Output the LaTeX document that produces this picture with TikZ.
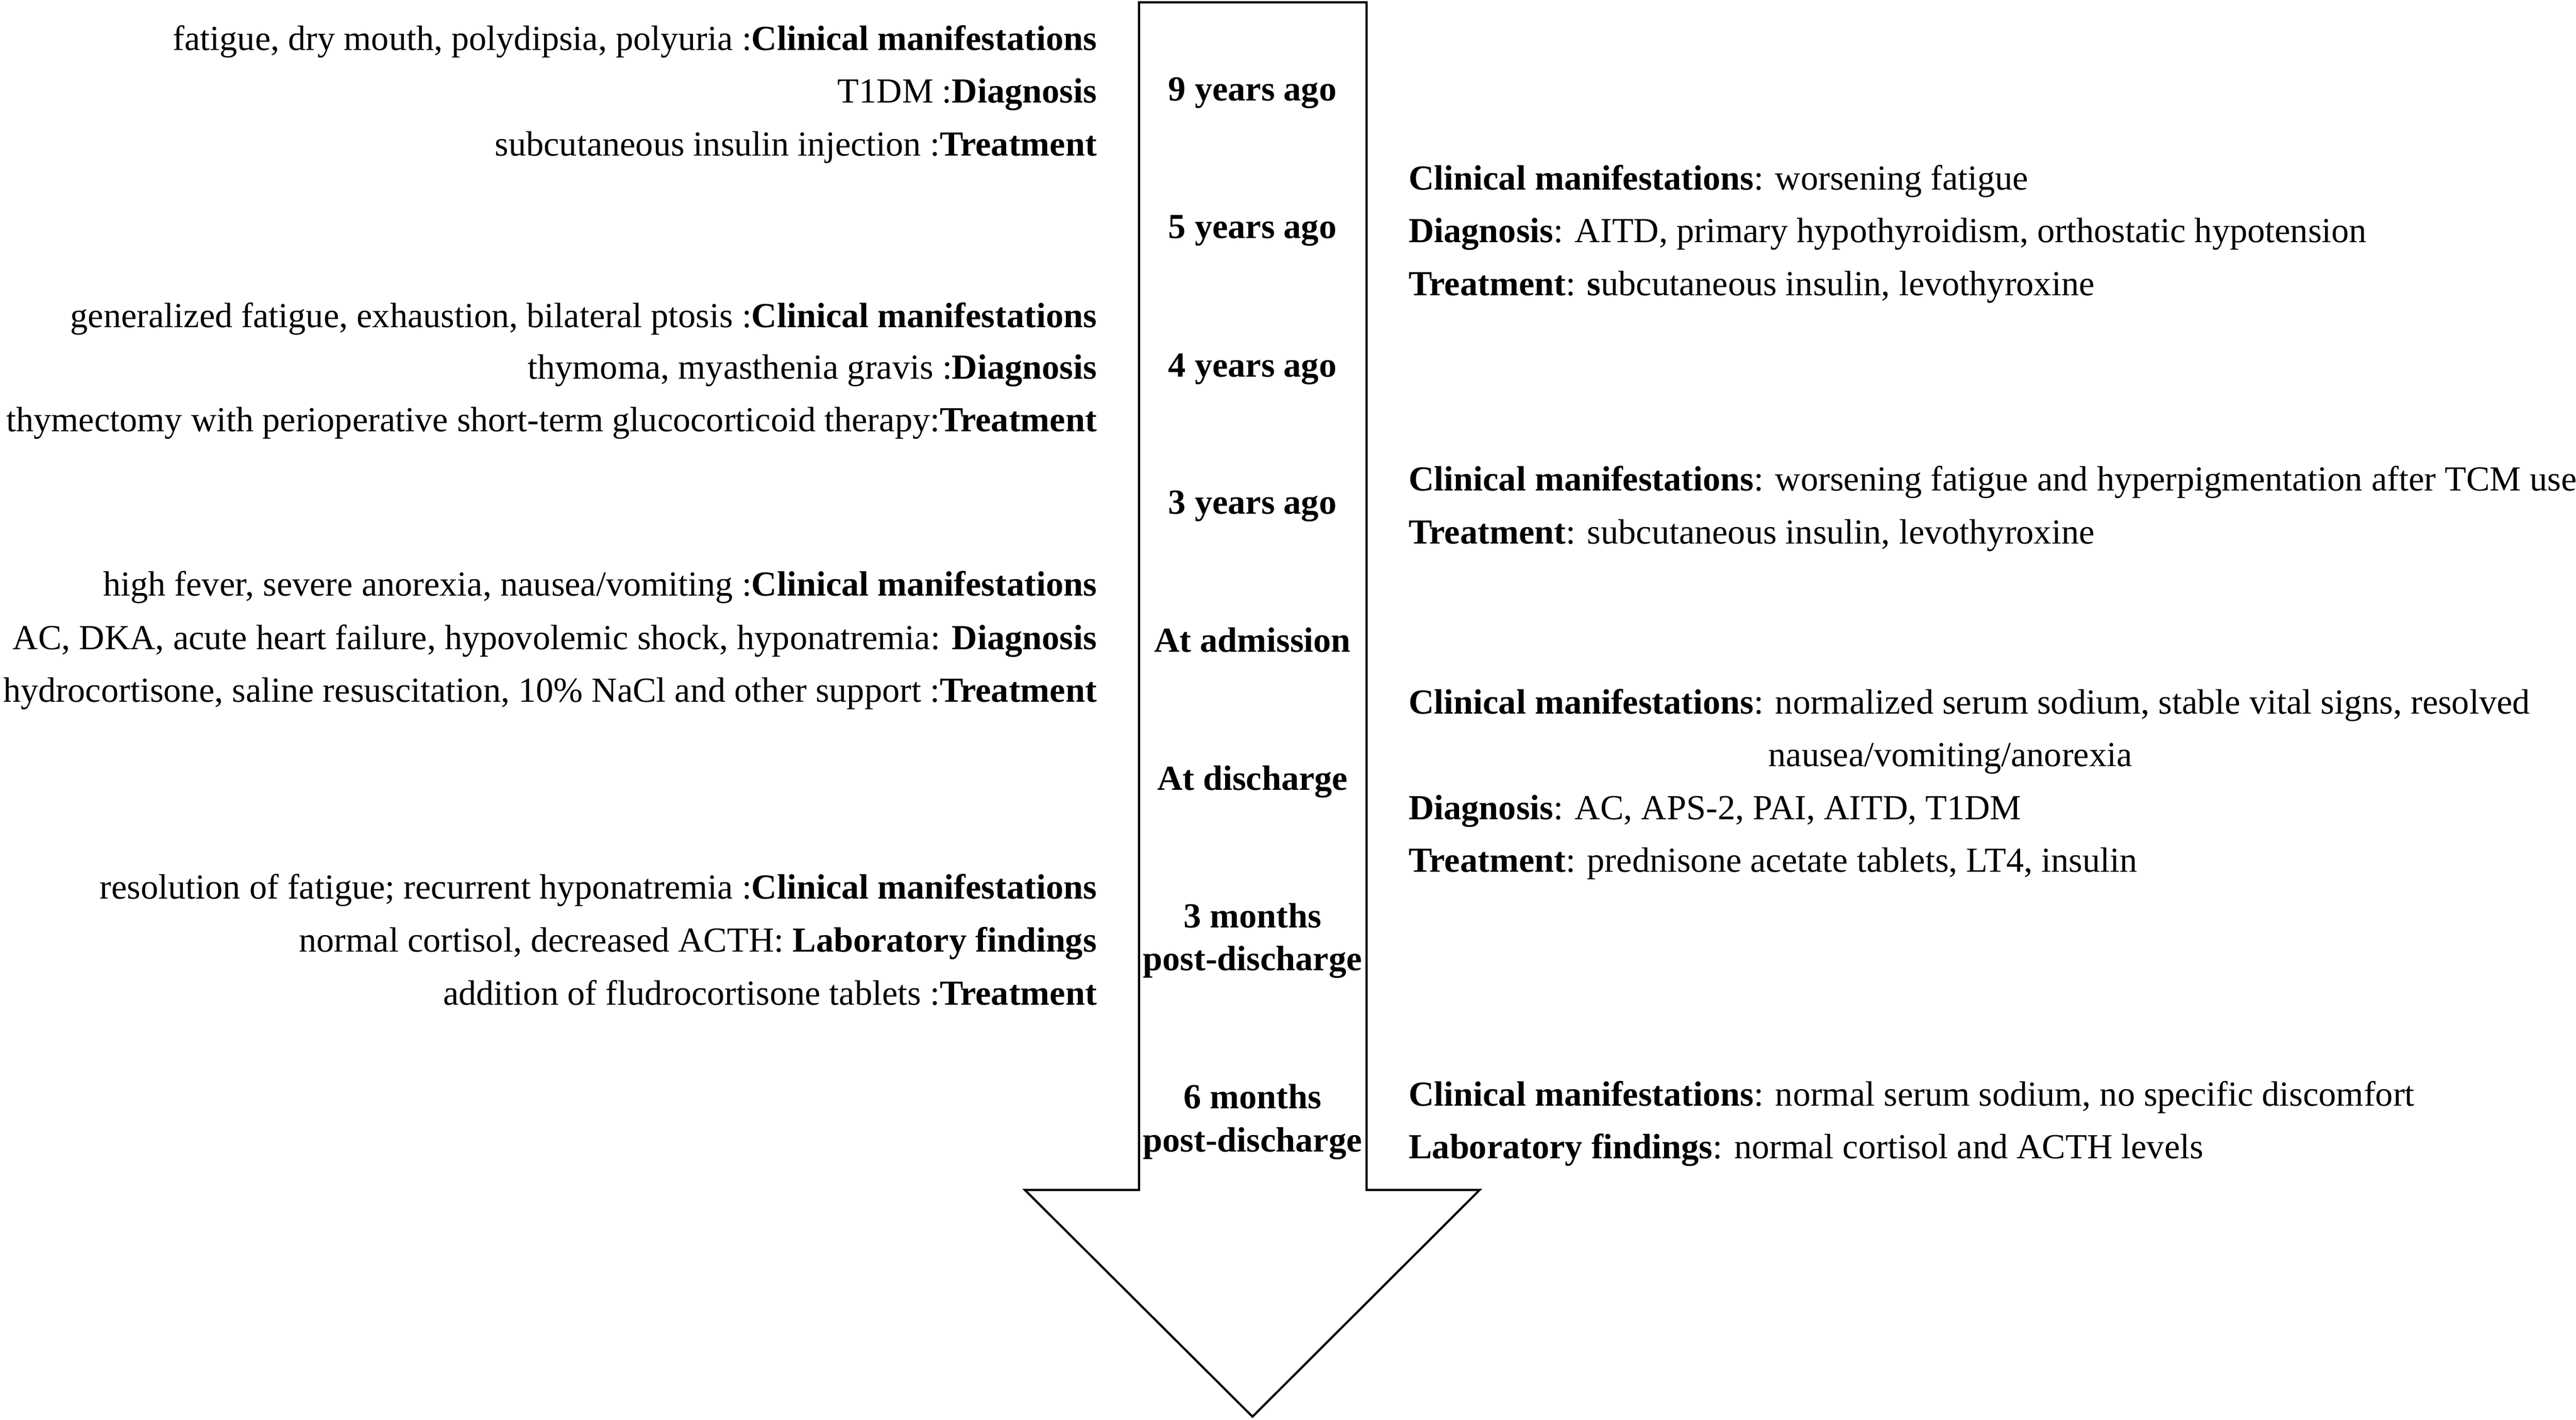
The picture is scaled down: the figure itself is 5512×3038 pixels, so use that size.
\documentclass[tikz,border=0pt]{standalone}
\usepackage{fontspec}
\setmainfont{Liberation Serif}
\usetikzlibrary{positioning}

\tikzset{
  leftnote/.style={anchor=base east, inner sep=0pt},
  rightnote/.style={anchor=base west, inner sep=0pt},
  timelabel/.style={anchor=base, inner sep=0pt, font=\bfseries},
}

\begin{document}
\fontsize{12.2pt}{14.6pt}\selectfont
\begin{tikzpicture}[x=0.162pt, y=-0.162pt]

\useasboundingbox (0,0) rectangle (5512,3038);

% the big arrow
\draw[line width=0.75pt, line join=miter] (2437,5) -- (2924,5) -- (2924,2546) -- (3166,2546) -- (2680,3031) -- (2193,2546) -- (2437,2546) -- cycle;

% time points
\node[timelabel] (yr9) at (2680,215) {9 years ago};
\node[timelabel] (yr5) at (2680,510) {5 years ago};
\node[timelabel] (yr4) at (2680,806) {4 years ago};
\node[timelabel] (yr3) at (2680,1100) {3 years ago};
\node[timelabel] (adm) at (2680,1395) {At admission};
\node[timelabel] (dis) at (2680,1690) {At discharge};
\node[timelabel] (mo3) at (2680,1985) {3 months};
\node[timelabel] (mo3b) at (2680,2076) {post-discharge};
\node[timelabel] (mo6) at (2680,2372) {6 months};
\node[timelabel] (mo6b) at (2680,2464) {post-discharge};

% left side
\node[leftnote] (lcm9) at (2348,107) {fatigue, dry mouth, polydipsia, polyuria :\textbf{Clinical manifestations}};
\node[leftnote] (ldx9) at (2348,220) {T1DM :\textbf{Diagnosis}};
\node[leftnote] (ltx9) at (2348,333) {subcutaneous insulin injection :\textbf{Treatment}};

\node[leftnote] (lcm4) at (2348,700) {generalized fatigue, exhaustion, bilateral ptosis :\textbf{Clinical manifestations}};
\node[leftnote] (ldx4) at (2348,811) {thymoma, myasthenia gravis :\textbf{Diagnosis}};
\node[leftnote] (ltx4) at (2348,923) {thymectomy with perioperative short-term glucocorticoid therapy:\textbf{Treatment}};

\node[leftnote] (lcmA) at (2348,1275) {high fever, severe anorexia, nausea/vomiting :\textbf{Clinical manifestations}};
\node[leftnote] (ldxA) at (2348,1389) {AC, DKA, acute heart failure, hypovolemic shock, hyponatremia: \textbf{Diagnosis}};
\node[leftnote] (ltxA) at (2348,1502) {hydrocortisone, saline resuscitation, 10\% NaCl and other support :\textbf{Treatment}};

\node[leftnote] (lcm3m) at (2348,1923) {resolution of fatigue; recurrent hyponatremia :\textbf{Clinical manifestations}};
\node[leftnote] (llab3m) at (2348,2037) {normal cortisol, decreased ACTH: \textbf{Laboratory findings}};
\node[leftnote] (ltx3m) at (2348,2150) {addition of fludrocortisone tablets :\textbf{Treatment}};

% right side
\node[rightnote] (rcm5) at (3013,406) {\textbf{Clinical manifestations}: worsening fatigue};
\node[rightnote] (rdx5) at (3013,519) {\textbf{Diagnosis}: AITD, primary hypothyroidism, orthostatic hypotension};
\node[rightnote] (rtx5) at (3013,632) {\textbf{Treatment}: \textbf{s}ubcutaneous insulin, levothyroxine};

\node[rightnote] (rcm3) at (3013,1050) {\textbf{Clinical manifestations}: worsening fatigue and hyperpigmentation after TCM use};
\node[rightnote] (rtx3) at (3013,1163) {\textbf{Treatment}: subcutaneous insulin, levothyroxine};

\node[rightnote] (rcmD) at (3013,1527) {\textbf{Clinical manifestations}: normalized serum sodium, stable vital signs, resolved};
\node[rightnote] (rcmD2) at (3783,1640) {nausea/vomiting/anorexia};
\node[rightnote] (rdxD) at (3013,1753) {\textbf{Diagnosis}: AC, APS-2, PAI, AITD, T1DM};
\node[rightnote] (rtxD) at (3013,1866) {\textbf{Treatment}: prednisone acetate tablets, LT4, insulin};

\node[rightnote] (rcm6m) at (3013,2366) {\textbf{Clinical manifestations}: normal serum sodium, no specific discomfort};
\node[rightnote] (rlab6m) at (3013,2479) {\textbf{Laboratory findings}: normal cortisol and ACTH levels};

\end{tikzpicture}
\end{document}
